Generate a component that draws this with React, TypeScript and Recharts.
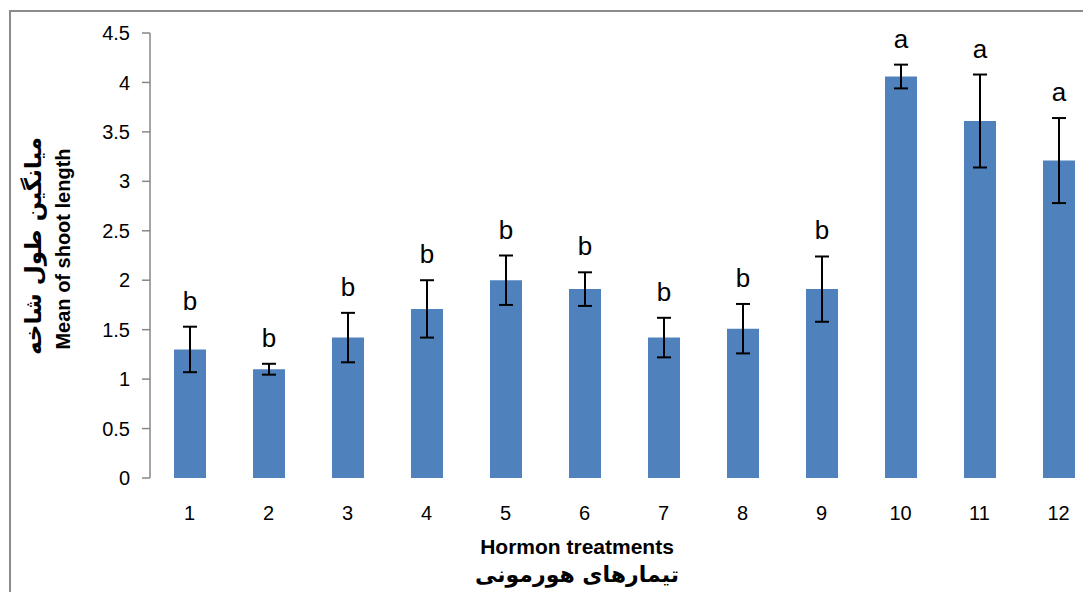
import React from "react";
import { BarChart, Bar, XAxis, YAxis, ErrorBar, LabelList } from "recharts";

// treatments and measured shoot length
const treatments = [1, 2, 3, 4, 5, 6, 7, 8, 9, 10, 11, 12];
const meanLength = [1.3, 1.1, 1.42, 1.71, 2.0, 1.91, 1.42, 1.51, 1.91, 4.06, 3.61, 3.21];
const stdErr = [0.23, 0.055, 0.25, 0.29, 0.25, 0.17, 0.2, 0.25, 0.33, 0.12, 0.47, 0.43];
const groups = ["b", "b", "b", "b", "b", "b", "b", "b", "b", "a", "a", "a"];
const yTicks = [0, 0.5, 1, 1.5, 2, 2.5, 3, 3.5, 4, 4.5];

const data = treatments.map((t, i) => ({
  id: t,
  mean: meanLength[i],
  err: stdErr[i],
  group: groups[i],
}));

// tick marks sit between categories, like Excel
const edges = [...treatments.map((t) => t - 0.5), treatments[treatments.length - 1] + 0.5];

const FONT = "'Liberation Sans', Arial, sans-serif";
const FA_FONT = "'DejaVu Sans', sans-serif";
const GRID = "#878787";

function GroupLabel(props: any) {
  const { x, y, width, height, value, index } = props;
  const d = data[index];
  if (!d) return null;
  const perUnit = Number(height) / d.mean;
  const top = Number(y) - d.err * perUnit;
  return (
    <text
      x={Number(x) + Number(width) / 2}
      y={top - 17}
      textAnchor="middle"
      fontSize={26}
      fontFamily={FONT}
      fill="#000"
    >
      {value}
    </text>
  );
}

export default function App() {
  return (
    <div
      style={{
        position: "fixed",
        left: 0,
        top: 0,
        width: 1083,
        height: 592,
        overflow: "hidden",
        background: "#fff",
      }}
    >
      <div
        style={{
          position: "absolute",
          left: 9,
          top: 10,
          width: 1200,
          height: 700,
          border: "2px solid #8c8c8c",
        }}
      />
      <div style={{ position: "absolute", left: 0, top: 0 }}>
        <BarChart
          width={1110}
          height={592}
          data={data}
          margin={{ top: 33, right: 12, bottom: 0, left: 0 }}
        >
          <XAxis
            xAxisId="bars"
            dataKey="id"
            type="number"
            domain={[0.5, 12.5]}
            ticks={edges}
            interval={0}
            height={0}
            tickSize={8}
            tickFormatter={() => ""}
            axisLine={{ stroke: GRID, strokeWidth: 1.5 }}
            tickLine={{ stroke: GRID, strokeWidth: 1.5 }}
          />
          <XAxis
            xAxisId="labels"
            dataKey="id"
            type="number"
            domain={[0.5, 12.5]}
            ticks={treatments}
            interval={0}
            height={114}
            tickSize={0}
            tickMargin={28}
            axisLine={false}
            tickLine={false}
            tick={{ fontSize: 20, fontFamily: FONT, fill: "#000" }}
          />
          <YAxis
            type="number"
            domain={[0, 4.5]}
            ticks={yTicks}
            interval={0}
            width={150}
            tickSize={8}
            tickMargin={12}
            axisLine={{ stroke: GRID, strokeWidth: 1.5 }}
            tickLine={{ stroke: GRID, strokeWidth: 1.5 }}
            tick={{ fontSize: 20, fontFamily: FONT, fill: "#000" }}
          />
          <Bar xAxisId="bars" dataKey="mean" fill="#4F81BD" barSize={32} isAnimationActive={false}>
            <ErrorBar
              dataKey="err"
              direction="y"
              width={7}
              stroke="#000"
              strokeWidth={2}
              isAnimationActive={false}
            />
            <LabelList dataKey="group" content={GroupLabel} />
          </Bar>
        </BarChart>
      </div>
      <div
        style={{
          position: "absolute",
          left: 63,
          top: 249,
          transform: "translate(-50%, -50%) rotate(-90deg)",
          whiteSpace: "nowrap",
          fontFamily: FONT,
          fontWeight: "bold",
          fontSize: 20,
          lineHeight: "20px",
        }}
      >
        Mean of shoot length
      </div>
      <div
        dir="rtl"
        style={{
          position: "absolute",
          left: 33,
          top: 246,
          transform: "translate(-50%, -50%) rotate(-90deg)",
          whiteSpace: "nowrap",
          fontFamily: FA_FONT,
          fontWeight: "bold",
          fontSize: 23,
          lineHeight: "26px",
        }}
      >
        میانگین طول شاخه
      </div>
      <div
        style={{
          position: "absolute",
          left: 577,
          top: 536,
          transform: "translateX(-50%)",
          whiteSpace: "nowrap",
          fontFamily: FONT,
          fontWeight: "bold",
          fontSize: 21,
          lineHeight: "22px",
        }}
      >
        Hormon treatments
      </div>
      <div
        dir="rtl"
        style={{
          position: "absolute",
          left: 577,
          top: 562,
          transform: "translateX(-50%)",
          whiteSpace: "nowrap",
          fontFamily: FA_FONT,
          fontWeight: "bold",
          fontSize: 22,
          lineHeight: "26px",
        }}
      >
        تیمارهای هورمونی
      </div>
    </div>
  );
}
